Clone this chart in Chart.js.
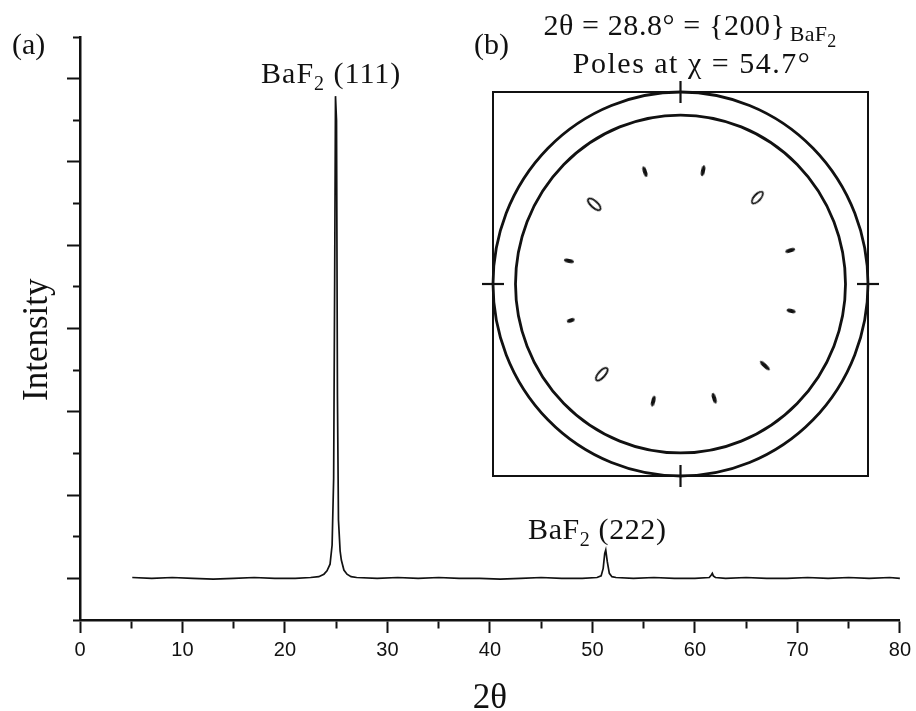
<!DOCTYPE html>
<html>
<head>
<meta charset="utf-8">
<script src="https://cdn.jsdelivr.net/npm/chart.js@4.4.1/dist/chart.umd.min.js"></script>
<style>
  html, body { margin: 0; padding: 0; background: #fff; }
  #wrap { position: relative; width: 916px; height: 711px; overflow: hidden; background: #fff; }
  #main { position: absolute; left: 0; top: 0; }
  #inset { position: absolute; left: 471px; top: 70px; }
  .lbl { position: absolute; font-family: 'Liberation Serif', 'Times New Roman', serif; font-size: 30px;
         line-height: 30px; white-space: nowrap; color: #111; }
  .lbl .s1 { font-size: 20px; position: relative; top: 7px; }
  .lbl .s2 { font-size: 22px; position: relative; top: 6px; letter-spacing: 0.3px; margin-left: 4px; }
  .lbl .s3 { font-size: 18px; position: relative; top: 6px; }
  #ytitle { position: absolute; font-family: 'Liberation Serif', 'Times New Roman', serif; font-size: 35px;
            line-height: 35px; white-space: nowrap; color: #111; transform-origin: 0 0; }
</style>
</head>
<body>
<div id="wrap">
  <canvas id="main" width="916" height="711"></canvas>
  <canvas id="inset" width="419" height="428"></canvas>
  <div class="lbl" id="pa" style="left:12px;top:29px;">(a)</div>
  <div class="lbl" id="pb" style="left:474px;top:29px;">(b)</div>
  <div class="lbl" id="ititle1" style="left:490px;top:10px;width:400px;text-align:center;letter-spacing:0.6px;">2θ = 28.8° = {200}<span class="s2">BaF<span class="s3">2</span></span></div>
  <div class="lbl" id="ititle2" style="left:492px;top:48px;width:400px;text-align:center;letter-spacing:1.5px;">Poles at χ = 54.7°</div>
  <div class="lbl" id="peak1" style="letter-spacing:1px;">BaF<span class="s1">2</span> (111)</div>
  <div class="lbl" id="peak2" style="letter-spacing:0.6px;">BaF<span class="s1">2</span> (222)</div>
  <div id="ytitle">Intensity</div>
</div>
<script>
// ---------------- data ----------------
const twoTheta = [5.1, 7, 9, 11, 13, 15, 17, 19, 21,
  22.5, 23.3, 23.8, 24.1, 24.4, 24.6, 24.75, 24.85, 24.93, 25.03,
  25.12, 25.22, 25.38, 25.5, 25.75, 26.05, 26.45, 27,
  29, 31, 33, 35, 37, 39, 41, 43, 45, 47, 49,
  50.45, 50.85, 51.05, 51.2, 51.3, 51.45, 51.65, 51.9, 52.3,
  54, 56, 58, 60,
  61.4, 61.6, 61.7, 61.8, 62.0,
  63, 65, 67, 69, 71, 73, 75, 77, 79, 80];
const intensity = [0.01, 0.0, 0.01, 0.0, -0.01, 0.0, 0.01, 0.0, 0.0,
  0.01, 0.02, 0.05, 0.09, 0.17, 0.4, 1.2, 3.6, 5.79, 5.5,
  2.2, 0.7, 0.33, 0.22, 0.1, 0.05, 0.02, 0.01,
  0.0, 0.01, 0.0, 0.01, 0.0, 0.0, -0.01, 0.0, 0.01, 0.0, 0.0,
  0.01, 0.03, 0.12, 0.3, 0.34, 0.2, 0.06, 0.02, 0.01,
  0.0, 0.01, 0.0, 0.0,
  0.01, 0.04, 0.06, 0.03, 0.01,
  0.0, 0.01, 0.0, 0.0, 0.01, 0.0, 0.01, 0.0, 0.01, 0.0];

const xTickLabels = [0, 10, 20, 30, 40, 50, 60, 70, 80];
const peakLabelX = [24.5, 50.5];
const peakLabelY = [5.95, 0.47];

// pole figure inset (normalised coordinates, outer ring radius = 1)
const poleX = [-0.19, 0.12, 0.41, -0.46, 0.585, -0.595, 0.59, -0.585, 0.45, -0.42, -0.145, 0.18];
const poleY = [0.585, 0.59, 0.45, 0.415, 0.175, 0.12, -0.14, -0.19, -0.425, -0.47, -0.61, -0.595];
const poleLen = [11, 11, 15, 16, 10, 10, 9, 8, 13, 16, 11, 11];
const poleHollow = [false, false, true, true, false, false, false, false, false, true, false, false];
const ringRadii = [1, 0.88];
const crossX = [0, 0, -1, 1];
const crossY = [1, -1, 0, 0];

// ---------------- main chart ----------------
const INK = '#111';
const serif = "'Liberation Serif', 'Times New Roman', serif";
const sans = "'Liberation Sans', Arial, sans-serif";

const mainData = twoTheta.map((t, i) => ({ x: t, y: intensity[i] }));

const mainChart = new Chart(document.getElementById('main'), {
  type: 'line',
  data: { datasets: [{
    data: mainData, borderColor: INK, borderWidth: 1.7, pointRadius: 0, tension: 0, fill: false
  }]},
  options: {
    responsive: false, animation: false, devicePixelRatio: 1,
    layout: { padding: { top: 37, right: 11, left: 0, bottom: 0 } },
    plugins: { legend: { display: false }, tooltip: { enabled: false } },
    scales: {
      x: {
        type: 'linear', min: 0, max: 80, position: 'bottom',
        afterFit: s => { s.height = 91; },
        border: { display: true, color: INK, width: 2.5 },
        grid: {
          display: true, drawOnChartArea: false, drawTicks: true, tickLength: 13, tickWidth: 2, tickColor: INK,
          tickBorderDash: c => (c.tick && c.tick.value % 10 === 0) ? [] : [7, 20],
          tickBorderDashOffset: 0
        },
        ticks: {
          stepSize: 5, autoSkip: false, maxRotation: 0, minRotation: 0, padding: 5, color: INK,
          font: { family: sans, size: 20 },
          callback: v => xTickLabels.includes(v) ? String(v) : ''
        },
        title: { display: true, text: '2θ', color: INK, font: { family: serif, size: 35, lineHeight: 1 },
                 padding: { top: 0, bottom: -5 } }
      },
      y: {
        type: 'linear', min: -0.5, max: 6.5, position: 'left',
        afterFit: s => { s.width = 80; },
        border: { display: true, color: INK, width: 2.5 },
        grid: {
          display: true, drawOnChartArea: false, drawTicks: true, tickLength: 13, tickWidth: 2, tickColor: INK,
          tickBorderDash: c => (c.tick && Number.isInteger(c.tick.value)) ? [] : [7, 6],
          tickBorderDashOffset: c => (c.tick && Number.isInteger(c.tick.value)) ? 0 : 7
        },
        ticks: { display: false, stepSize: 0.5 }
      }
    }
  }
});

// labels anchored through the chart's scales
function placeLabels() {
  const xs = mainChart.scales.x, ys = mainChart.scales.y;
  ['peak1', 'peak2'].forEach((id, i) => {
    const el = document.getElementById(id);
    const px = xs.getPixelForValue(peakLabelX[i]);
    const py = ys.getPixelForValue(peakLabelY[i]);
    el.style.left = (px - el.offsetWidth / 2) + 'px';
    el.style.top = (py - 25) + 'px';
  });
  // y-axis title, rotated, centred slightly below the middle of the axis
  const yt = document.getElementById('ytitle');
  const w = yt.offsetWidth, h = yt.offsetHeight;
  const cy = (ys.top + ys.bottom) / 2 + 11;
  const cx = 35;
  yt.style.left = (cx - h / 2) + 'px';
  yt.style.top = (cy + w / 2) + 'px';
  yt.style.transform = 'rotate(-90deg)';
}
placeLabels();

// ---------------- inset pole figure ----------------
function makeSpot(len, thick, hollow) {
  const c = document.createElement('canvas');
  c.width = len + 4; c.height = thick + 4;
  const g = c.getContext('2d');
  g.beginPath();
  g.ellipse(c.width / 2, c.height / 2, len / 2, thick / 2, 0, 0, Math.PI * 2);
  if (hollow) { g.lineWidth = 1.8; g.strokeStyle = INK; g.stroke(); }
  else { g.fillStyle = INK; g.fill(); }
  return c;
}
const spotImgs = poleLen.map((l, i) => poleHollow[i] ? makeSpot(l, 6.5, true) : makeSpot(l, 4.2, false));

const insetFrame = {
  id: 'insetFrame',
  beforeDatasetsDraw(chart) {
    const { ctx, chartArea: a, scales: { x, y } } = chart;
    ctx.save();
    ctx.strokeStyle = INK;
    ctx.lineWidth = 2;
    ctx.strokeRect(a.left, a.top, a.right - a.left, a.bottom - a.top);
    const cx = x.getPixelForValue(0), cy = y.getPixelForValue(0);
    ctx.lineWidth = 2.8;
    ringRadii.forEach(r => {
      const rx = Math.abs(x.getPixelForValue(r) - cx);
      const ry = Math.abs(y.getPixelForValue(r) - cy);
      ctx.beginPath();
      ctx.ellipse(cx, cy, rx, ry, 0, 0, Math.PI * 2);
      ctx.stroke();
    });
    ctx.restore();
  }
};

new Chart(document.getElementById('inset'), {
  type: 'scatter',
  data: { datasets: [
    {
      data: poleX.map((v, i) => ({ x: v, y: poleY[i] })),
      pointStyle: c => spotImgs[c.dataIndex],
      rotation: c => Math.atan2(-poleY[c.dataIndex], poleX[c.dataIndex]) * 180 / Math.PI,
      pointRadius: 6, clip: false
    },
    {
      data: crossX.map((v, i) => ({ x: v, y: crossY[i] })),
      pointStyle: 'line', pointRadius: 11, borderWidth: 2.2, borderColor: INK,
      rotation: c => crossX[c.dataIndex] === 0 ? 90 : 0,
      clip: false
    }
  ]},
  options: {
    responsive: false, animation: false, devicePixelRatio: 1,
    layout: { padding: 22 },
    plugins: { legend: { display: false }, tooltip: { enabled: false } },
    scales: {
      x: { type: 'linear', min: -1, max: 1, display: false },
      y: { type: 'linear', min: -1, max: 1, display: false }
    }
  },
  plugins: [insetFrame]
});
</script>
</body>
</html>
